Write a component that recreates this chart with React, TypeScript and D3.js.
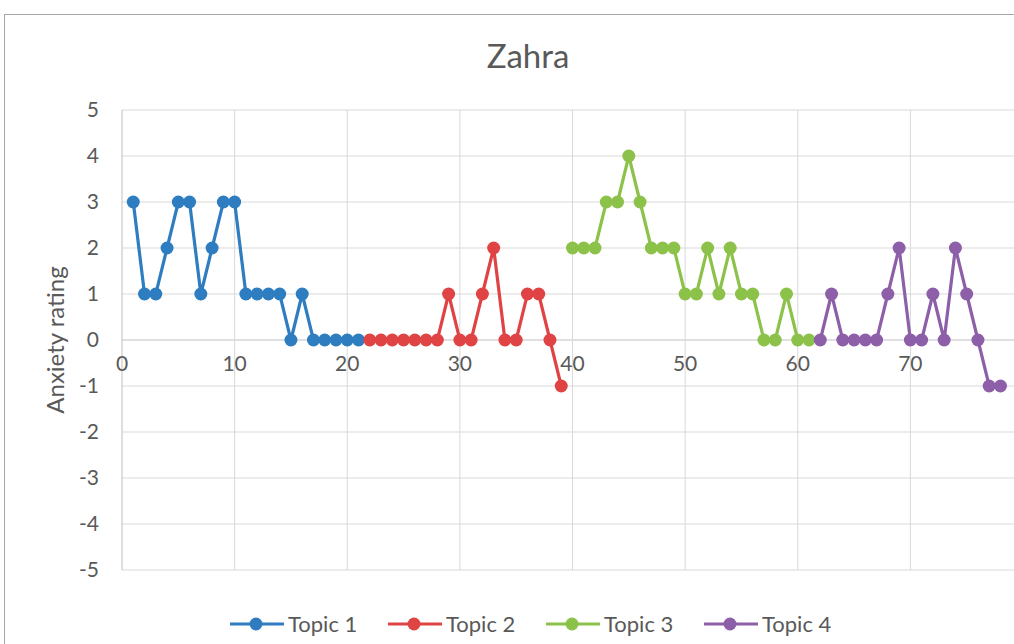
import * as d3 from 'd3';

const topic1 = [3, 1, 1, 2, 3, 3, 1, 2, 3, 3, 1, 1, 1, 1, 0, 1, 0, 0, 0, 0, 0];
const topic2 = [0, 0, 0, 0, 0, 0, 0, 1, 0, 0, 1, 2, 0, 0, 1, 1, 0, -1];
const topic3 = [2, 2, 2, 3, 3, 4, 3, 2, 2, 2, 1, 1, 2, 1, 2, 1, 1, 0, 0, 1, 0, 0];
const topic4 = [0, 1, 0, 0, 0, 0, 1, 2, 0, 0, 1, 0, 2, 1, 0, -1, -1];

const seriesNames = ['Topic 1', 'Topic 2', 'Topic 3', 'Topic 4'];
const seriesStart = [1, 22, 40, 62];
const seriesColors = ['#2e7dc0', '#df4343', '#8cc24a', '#8c5fa8'];
const xTicks = [0, 10, 20, 30, 40, 50, 60, 70];
const yTicks = [-5, -4, -3, -2, -1, 0, 1, 2, 3, 4, 5];

const W = 1014;
const H = 644;
const font = 'Lato, "Open Sans", sans-serif';
const textColor = '#595959';

const App = () => {
  const x = d3.scaleLinear().domain([0, 80]).range([122, 1023]);
  const y = d3.scaleLinear().domain([-5, 5]).range([570, 110]);

  const all = [topic1, topic2, topic3, topic4].map((vals, i) =>
    vals.map((v, j) => ({ x: seriesStart[i] + j, y: v }))
  );

  const line = d3
    .line<{ x: number; y: number }>()
    .x(d => x(d.x))
    .y(d => y(d.y));

  return (
    <svg
      width={W}
      height={H}
      style={{ position: 'absolute', left: 0, top: 0, background: '#fff' }}
    >
      <rect x={4.5} y={14.5} width={1060} height={700} fill="#fff" stroke="#a6a6a6" />
      <text
        x={528}
        y={68}
        textAnchor="middle"
        fontFamily={font}
        fontSize={33}
        fill={textColor}
      >
        Zahra
      </text>

      {yTicks.map(t => (
        <line
          key={'gy' + t}
          x1={x(0)}
          x2={W}
          y1={y(t)}
          y2={y(t)}
          stroke={t === 0 ? '#bfbfbf' : '#d9d9d9'}
          strokeWidth={1}
        />
      ))}
      {xTicks.map(t => (
        <line
          key={'gx' + t}
          x1={x(t)}
          x2={x(t)}
          y1={y(5)}
          y2={y(-5)}
          stroke={t === 0 ? '#bfbfbf' : '#d9d9d9'}
          strokeWidth={1}
        />
      ))}

      {yTicks.map(t => (
        <text
          key={'ly' + t}
          x={99}
          y={y(t)}
          dy="0.35em"
          textAnchor="end"
          fontFamily={font}
          fontSize={21}
          fill={textColor}
        >
          {t}
        </text>
      ))}
      {xTicks.map(t => (
        <text
          key={'lx' + t}
          x={x(t)}
          y={y(0) + 31}
          textAnchor="middle"
          fontFamily={font}
          fontSize={21}
          fill={textColor}
        >
          {t}
        </text>
      ))}

      <text
        transform={`translate(64, ${y(0)}) rotate(-90)`}
        textAnchor="middle"
        fontFamily={font}
        fontSize={24}
        fill={textColor}
      >
        Anxiety rating
      </text>

      {all.map((pts, i) => (
        <g key={'s' + i}>
          <path d={line(pts) || ''} fill="none" stroke={seriesColors[i]} strokeWidth={3.2} />
          {pts.map((p, j) => (
            <circle key={j} cx={x(p.x)} cy={y(p.y)} r={6.5} fill={seriesColors[i]} />
          ))}
        </g>
      ))}

      {seriesNames.map((name, i) => {
        const lx = 230 + i * 158;
        const ly = 624;
        return (
          <g key={'lg' + i}>
            <line x1={lx} x2={lx + 54} y1={ly} y2={ly} stroke={seriesColors[i]} strokeWidth={3.2} />
            <circle cx={lx + 26} cy={ly} r={6.5} fill={seriesColors[i]} />
            <text
              x={lx + 58}
              y={ly}
              dy="0.35em"
              fontFamily={font}
              fontSize={22}
              fill={textColor}
            >
              {name}
            </text>
          </g>
        );
      })}
    </svg>
  );
};

export default App;
